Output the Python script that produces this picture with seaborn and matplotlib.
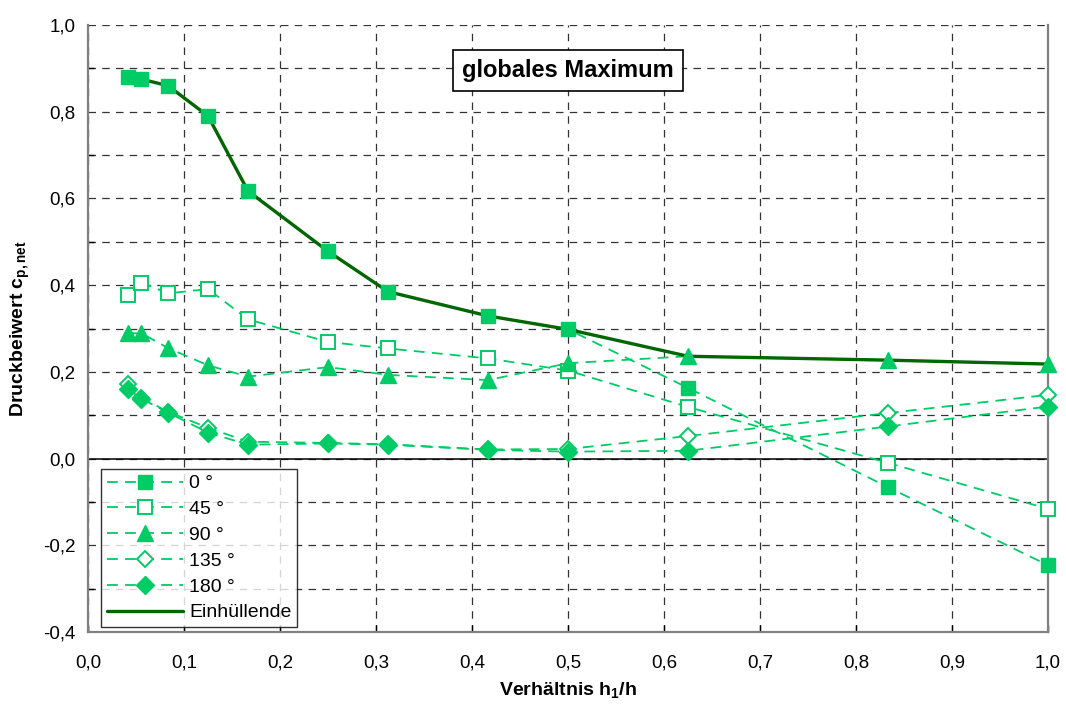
import numpy as np
import pandas as pd
import matplotlib
matplotlib.use("Agg")
import matplotlib.pyplot as plt
from matplotlib.lines import Line2D
from matplotlib.ticker import MultipleLocator, FuncFormatter
import seaborn as sns

# Ratio h1/h and net pressure coefficients for each wind direction
ratio = [1/24, 1/18, 1/12, 1/8, 1/6, 1/4, 5/16, 5/12, 1/2, 5/8, 5/6, 1.0]
cp_0 = [0.880, 0.875, 0.860, 0.790, 0.617, 0.478, 0.385, 0.329, 0.298, 0.163, -0.066, -0.246]
cp_45 = [0.377, 0.406, 0.381, 0.391, 0.321, 0.269, 0.254, 0.231, 0.203, 0.119, -0.010, -0.116]
cp_90 = [0.289, 0.289, 0.255, 0.215, 0.189, 0.211, 0.193, 0.181, 0.220, 0.236, 0.227, 0.218]
cp_135 = [0.171, 0.140, 0.108, 0.071, 0.039, 0.036, 0.033, 0.021, 0.022, 0.052, 0.105, 0.147]
cp_180 = [0.160, 0.138, 0.106, 0.060, 0.032, 0.035, 0.032, 0.020, 0.016, 0.018, 0.074, 0.120]
directions = ["0 °", "45 °", "90 °", "135 °", "180 °"]
envelope_label = "Einhüllende"

series = [cp_0, cp_45, cp_90, cp_135, cp_180]
envelope = np.max(np.array(series), axis=0)

sns.set_theme(style="white")
plt.rcParams["font.family"] = ["Liberation Sans", "DejaVu Sans"]
plt.rcParams["mathtext.fontset"] = "custom"
plt.rcParams["mathtext.rm"] = "Liberation Sans"
plt.rcParams["mathtext.it"] = "Liberation Sans"
plt.rcParams["mathtext.bf"] = "Liberation Sans:bold"
for key in ["text.color", "axes.labelcolor", "xtick.color", "ytick.color"]:
    plt.rcParams[key] = "black"

light = "#00cc66"
dark = "#006600"
dash = (0, (6, 4))

fig = plt.figure(figsize=(10.66, 7.06), dpi=100)
ax = fig.add_axes([0.0826, 0.1048, 0.9005, 0.8598])

styles = [
    dict(marker="s", mfc=light, mec=light, ms=10, mew=1.0),
    dict(marker="s", mfc="white", mec=light, ms=9.5, mew=1.4),
    dict(marker="^", mfc=light, mec=light, ms=11, mew=1.0),
    dict(marker="D", mfc="white", mec=light, ms=8, mew=1.4),
    dict(marker="D", mfc=light, mec=light, ms=9, mew=1.0),
]

handles = []
for name, vals, st in zip(directions, series, styles):
    df = pd.DataFrame({"x": ratio, "y": vals})
    # dashed connecting line
    sns.lineplot(data=df, x="x", y="y", ax=ax, color=light, lw=1.3,
                 linestyle=dash, sort=False, estimator=None, zorder=3,
                 legend=False)
    # markers on top of every line
    sns.lineplot(data=df, x="x", y="y", ax=ax, color=light, linestyle="none",
                 sort=False, estimator=None, zorder=5, legend=False,
                 clip_on=False, **st)
    handles.append(Line2D([], [], color=light, lw=1.3, linestyle=dash,
                          label=name, **st))

env_df = pd.DataFrame({"x": ratio, "y": envelope})
sns.lineplot(data=env_df, x="x", y="y", ax=ax, color=dark, lw=2.4,
             sort=False, estimator=None, zorder=4, legend=False)
handles.append(Line2D([], [], color=dark, lw=2.4, label=envelope_label))

ax.set_xlim(0, 1.0)
ax.set_ylim(-0.4, 1.0)
ax.xaxis.set_major_locator(MultipleLocator(0.1))
ax.yaxis.set_major_locator(MultipleLocator(0.2))
ax.yaxis.set_minor_locator(MultipleLocator(0.1))
fmt = FuncFormatter(lambda v, p: f"{v:.1f}".replace(".", ","))
ax.xaxis.set_major_formatter(fmt)
ax.yaxis.set_major_formatter(fmt)

ax.grid(True, which="both", axis="both", color="black", lw=0.9,
        linestyle=(0, (6, 5)), alpha=0.8)
ax.set_axisbelow(True)
ax.axhline(0, color="black", lw=1.1, zorder=2)

for side in ["left", "bottom", "right"]:
    ax.spines[side].set_color("#808080")
    ax.spines[side].set_linewidth(1.6)
ax.spines["top"].set_visible(False)

ax.tick_params(axis="y", which="major", direction="out", length=5, width=1,
               color="black", labelsize=13.5, pad=4)
ax.tick_params(axis="y", which="minor", direction="in", length=4, width=1,
               color="black", left=True)
ax.tick_params(axis="x", which="major", direction="in", length=5, width=1,
               color="black", labelsize=13.5, pad=16, bottom=True)

ax.set_xlabel(r"Verhältnis $\mathbf{h_1/h}$", fontsize=14, fontweight="bold",
              labelpad=6)
ax.set_ylabel(r"Druckbeiwert $\mathbf{c_{p,net}}$", fontsize=14,
              fontweight="bold", labelpad=8)

ax.text(0.5, 0.925, "globales Maximum", transform=ax.transAxes,
        ha="center", va="center", fontsize=17, fontweight="bold",
        bbox=dict(boxstyle="square,pad=0.4", fc="white", ec="black", lw=1.2),
        zorder=6)

leg = ax.legend(handles=handles, loc="lower left",
                bbox_to_anchor=(0.014, 0.008), borderaxespad=0, frameon=True,
                fancybox=False, edgecolor="black", fontsize=14,
                handlelength=3.9, handletextpad=0.3, labelspacing=0.42,
                borderpad=0.3)
leg.get_frame().set_linewidth(1.0)
leg.set_zorder(7)

fig.savefig("out.png", dpi=100, facecolor="white")
